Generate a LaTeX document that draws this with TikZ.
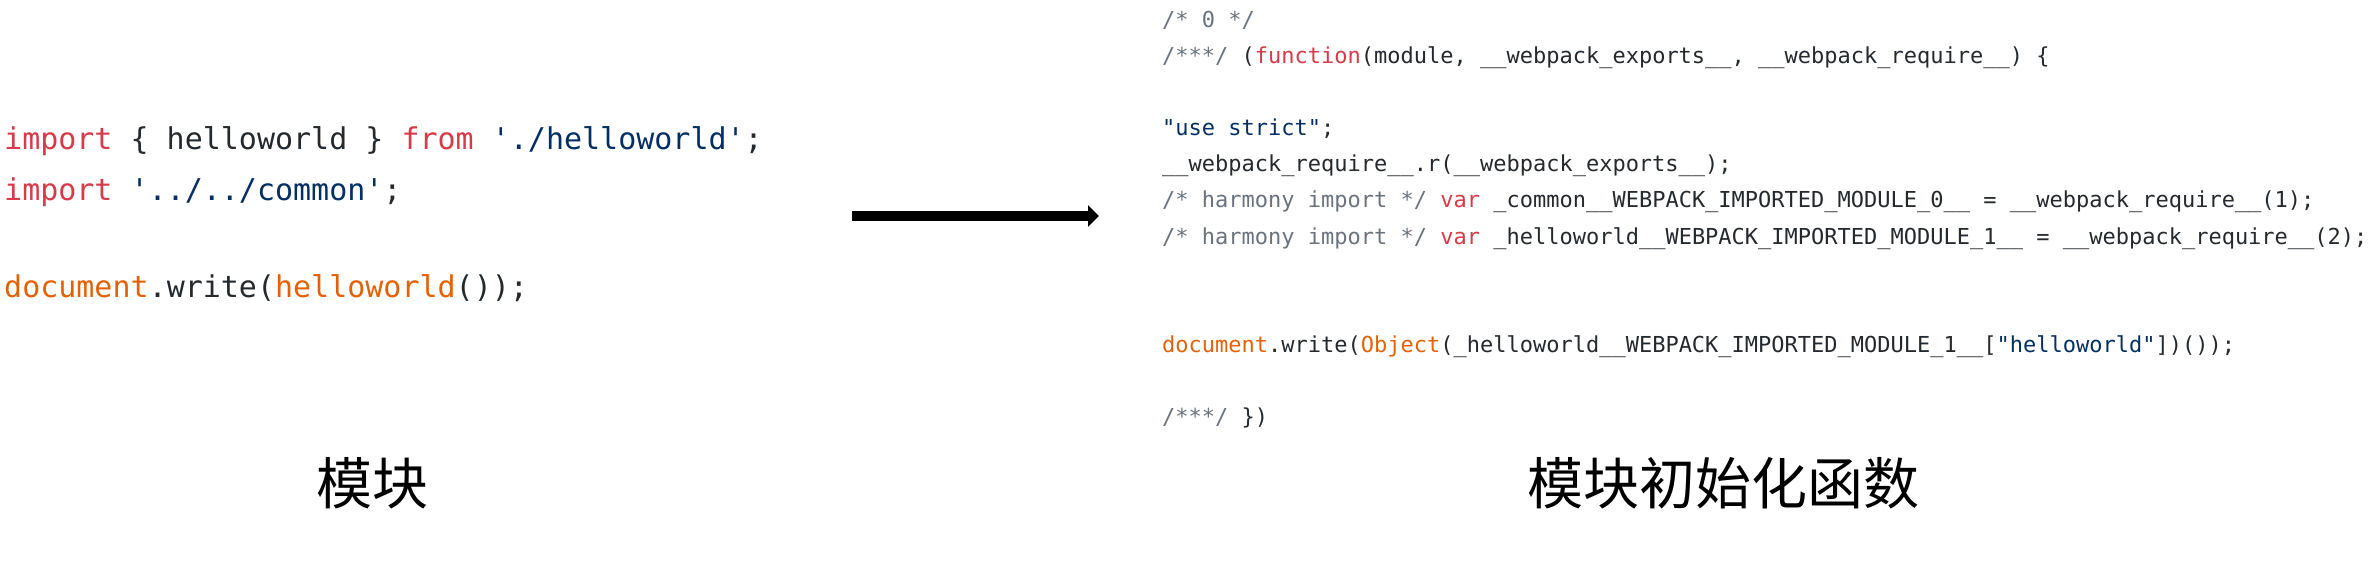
\documentclass[tikz,border=0pt]{standalone}
\usepackage{xcolor}
\usepackage{fontspec}
\setmonofont{DejaVu Sans Mono}
\newfontfamily\cjk{Noto Sans CJK SC}
\usepackage{tikz}
\usetikzlibrary{arrows.meta,positioning}

\definecolor{txt}{HTML}{24292E}
\definecolor{kwred}{HTML}{D73A49}
\definecolor{strblue}{HTML}{032F62}
\definecolor{fnorange}{HTML}{E36209}
\definecolor{cmtgray}{HTML}{6A737D}

\newcommand{\kwd}[1]{\textcolor{kwred}{#1}}
\newcommand{\strg}[1]{\textcolor{strblue}{#1}}
\newcommand{\fnc}[1]{\textcolor{fnorange}{#1}}
\newcommand{\cmt}[1]{\textcolor{cmtgray}{#1}}

\begin{document}
\begin{tikzpicture}[x=1pt,y=-1pt,
    srcline/.style={anchor=base west, inner sep=0pt, text=txt, font=\ttfamily\fontsize{30}{36}\selectfont},
    bundleline/.style={anchor=base west, inner sep=0pt, text=txt, font=\ttfamily\fontsize{22}{26}\selectfont},
    caption/.style={inner sep=0pt, font=\cjk\fontsize{56}{60}\selectfont}
]
    \useasboundingbox (0,0) rectangle (2380,588);

    % Module source
    \node[srcline] (s1) at (4,150) {\kwd{import} \{ helloworld \} \kwd{from} \strg{'./helloworld'};};
    \node[srcline] (s2) at (4,201) {\kwd{import} \strg{'../../common'};};
    \node[srcline] (s3) at (4,297) {\fnc{document}.write(\fnc{helloworld}());};

    % Module initialisation function
    \node[bundleline] (o1) at (1162,28) {\cmt{/* 0 */}};
    \node[bundleline] (o2) at (1162,64) {\cmt{/***/} (\kwd{function}(module, \_\_webpack\_exports\_\_, \_\_webpack\_require\_\_) \{};
    \node[bundleline] (o3) at (1162,136) {\strg{"use strict"};};
    \node[bundleline] (o4) at (1162,172) {\_\_webpack\_require\_\_.r(\_\_webpack\_exports\_\_);};
    \node[bundleline] (o5) at (1162,208) {\cmt{/* harmony import */} \kwd{var} \_common\_\_WEBPACK\_IMPORTED\_MODULE\_0\_\_ = \_\_webpack\_require\_\_(1);};
    \node[bundleline] (o6) at (1162,244) {\cmt{/* harmony import */} \kwd{var} \_helloworld\_\_WEBPACK\_IMPORTED\_MODULE\_1\_\_ = \_\_webpack\_require\_\_(2);};
    \node[bundleline] (o7) at (1162,352) {\fnc{document}.write(\fnc{Object}(\_helloworld\_\_WEBPACK\_IMPORTED\_MODULE\_1\_\_[\strg{"helloworld"}])());};
    \node[bundleline] (o8) at (1162,424) {\cmt{/***/} \})};

    % Captions
    \node[caption] (cap1) at (372,483) {模块};
    \node[caption] (cap2) at (1723,483) {模块初始化函数};

    % Transform arrow
    \coordinate (a0) at (852,216);
    \coordinate (a1) at (1099,216);
    \draw[line width=10pt,-{Triangle[length=11pt,width=21pt]}] (a0) -- (a1);
\end{tikzpicture}
\end{document}
